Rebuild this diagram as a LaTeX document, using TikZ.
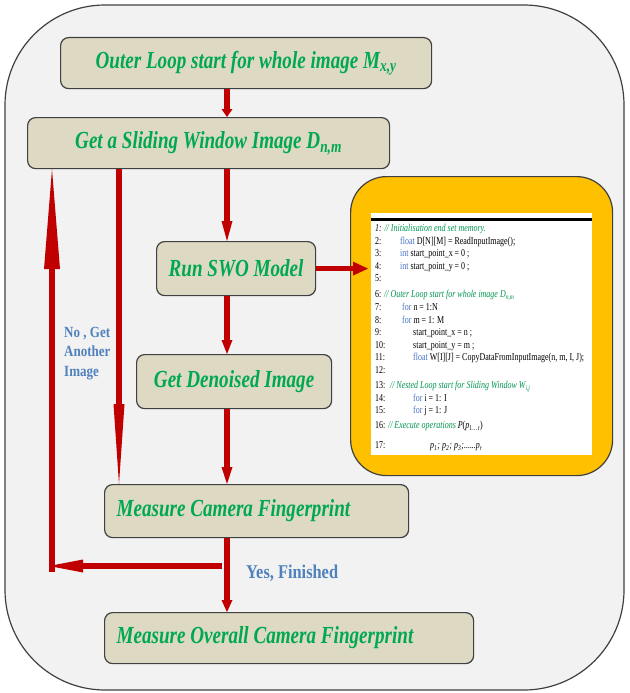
\documentclass[tikz,border=0pt]{standalone}
\usepackage{fontspec}
\setmainfont{Liberation Serif}
\newfontfamily\boxfont[FakeStretch=0.78]{Liberation Serif}
\newfontfamily\notefont[FakeStretch=0.84]{Liberation Serif}
\newfontfamily\codefont[FakeStretch=0.76]{Liberation Serif}
\usetikzlibrary{arrows.meta}

\definecolor{panelgray}{RGB}{242,242,242}
\definecolor{boxtan}{RGB}{221,217,195}
\definecolor{edgegray}{RGB}{64,64,64}
\definecolor{textgreen}{RGB}{0,168,80}
\definecolor{noteblue}{RGB}{79,129,189}
\definecolor{arrowred}{RGB}{192,0,0}
\definecolor{codeyellow}{RGB}{255,192,0}
\definecolor{cmtgreen}{RGB}{0,150,80}
\definecolor{kwblue}{RGB}{68,114,196}

\newcommand{\cmt}[1]{\textcolor{cmtgreen}{\itshape #1}}
\newcommand{\kw}[1]{\textcolor{kwblue}{#1}}

\begin{document}
\begin{tikzpicture}[x=1pt,y=-1pt,
	stepbox/.style={draw=edgegray, line width=1.2pt, fill=boxtan, rounded corners=8pt, inner sep=0pt, anchor=north west, text=textgreen, font=\boxfont\bfseries\itshape\fontsize{24.5}{27}\selectfont},
	leftbox/.style={stepbox, inner xsep=12pt},
	note/.style={text=noteblue, inner sep=0pt, font=\notefont\bfseries\fontsize{15.5}{19.5}\selectfont},
	flow/.style={arrowred, line width=5.5pt, -{Triangle[length=14pt,width=11pt,line width=0pt]}}]

		\useasboundingbox (0,0) rectangle (629,693);
		\draw[draw=edgegray, line width=1.2pt, fill=panelgray, rounded corners=100pt] (5,5) rectangle (624,690);

		\node[stepbox, minimum width=371pt, minimum height=51pt] (start) at (60,37) {Outer Loop start for whole image M\textsubscript{x,y}};
		\node[stepbox, minimum width=362pt, minimum height=51pt] (getwin) at (27,117) {Get a Sliding Window Image D\textsubscript{n,m}};
		\node[stepbox, minimum width=159pt, minimum height=54pt] (swo) at (156,241) {Run SWO Model};
		\node[stepbox, minimum width=195pt, minimum height=54pt] (denoise) at (136,354) {Get Denoised Image};
		\node[leftbox, minimum height=53pt] (measure) at (104,484) {\makebox[280pt][l]{Measure Camera Fingerprint}};
		\node[leftbox, minimum height=51pt] (overall) at (104,612) {\makebox[345pt][l]{Measure Overall Camera Fingerprint}};

		\node[draw=edgegray, line width=1.2pt, fill=codeyellow, rounded corners=36pt, minimum width=262pt, minimum height=299pt, anchor=north west] (codebox) at (350,176) {};
		\node[fill=white, inner sep=0pt, minimum width=221pt, minimum height=242pt, anchor=north west] (codepanel) at (371,213) {};
		\draw[line width=3pt] ([yshift=-6pt]codepanel.north west) -- ([yshift=-6pt]codepanel.north east);
		\node[anchor=north west, inner sep=0pt, align=left, font=\codefont\fontsize{10.5}{12.6}\selectfont] (code) at (375,224) {%
			\textit{1:} \cmt{// Initialisation end set memory.}\\
			\makebox[25pt][l]{2:}\kw{float} D[N][M] = ReadInputImage();\\
			\makebox[25pt][l]{3:}\kw{int} start\_point\_x = 0 ;\\
			\makebox[25pt][l]{4:}\kw{int} start\_point\_y = 0 ;\\
			5:\\[3.5pt]
			6: \cmt{// Outer Loop start for whole image D\textsubscript{n,m}}\\
			\makebox[27pt][l]{7:}\kw{for} n = 1:N\\
			\makebox[27pt][l]{8:}\kw{for} m = 1: M\\
			\makebox[38pt][l]{9:}start\_point\_x = n ;\\
			\makebox[38pt][l]{10:}start\_point\_y = m ;\\
			\makebox[38pt][l]{11:}\kw{float} W[I][J] = CopyDataFromInputImage(n, m, I, J);\\
			12:\\[2.5pt]
			13: \ \cmt{// Nested Loop start for Sliding Window W\textsubscript{i,j}}\\
			\makebox[38pt][l]{14:}\kw{for} i = 1: I\\
			\makebox[38pt][l]{15:}\kw{for} j = 1: J\\[2.5pt]
			16: \cmt{// Execute operations} \textit{P}(\textit{p}\textsubscript{1\dots r})\\[7pt]
			\makebox[55pt][l]{17:}\textit{p\textsubscript{1}; p\textsubscript{2}; p\textsubscript{3};......p\textsubscript{r}}};

		\node[note, anchor=north west, align=left] (retry) at (64,327) {No , Get\\Another\\Image};
		\node[note, anchor=base west, font=\notefont\bfseries\fontsize{19.5}{22}\selectfont] (done) at (246,578) {Yes, Finished};

		\coordinate (spine) at (227,0);
		\coordinate (side) at (119,0);
		\coordinate (split) at (222,566);
		\coordinate (turn) at (49,566);
		\coordinate (rise) at (52,572);

		\draw[flow, -{Triangle[length=8pt,width=11pt,line width=0pt]}] (start.south -| spine) -- (getwin.north -| spine);
		\draw[flow, -{Triangle[length=20pt,width=11pt,line width=0pt]}] (getwin.south -| spine) -- (swo.north -| spine);
		\draw[flow, -{Triangle[length=15pt,width=14pt,line width=0pt]}] (swo.east) -- ([xshift=-3pt]codepanel.west |- swo.east);
		\draw[flow] (swo.south -| spine) -- (denoise.north -| spine);
		\draw[flow, -{Triangle[length=17pt,width=11pt,line width=0pt]}] (denoise.south -| spine) -- (measure.north -| spine);
		\draw[flow, -{Triangle[length=12pt,width=11pt,line width=0pt]}] (measure.south -| spine) -- (overall.north -| spine);
		\draw[flow, -{Triangle[length=80pt,width=11pt,line width=0pt]}] (getwin.south -| side) -- (measure.north -| side);
		\draw[flow, line width=6.5pt, -{Triangle[length=100pt,width=16pt,line width=0pt]}] (rise) -- (getwin.south -| rise);
		\draw[flow, -{Triangle[length=34pt,width=13pt,line width=0pt]}] (split) -- (turn);

	\end{tikzpicture}
\end{document}
